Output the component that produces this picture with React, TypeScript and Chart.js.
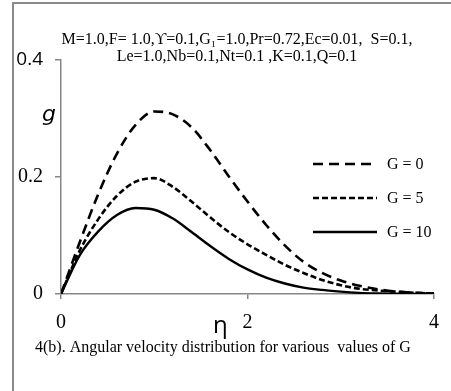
import React, { useEffect, useRef } from "react";
import { Chart, registerables } from "chart.js";

Chart.register(...registerables);

const eta = [0, 0.2, 0.4, 0.6, 0.8, 1.0, 1.2, 1.4, 1.6, 1.8, 2.0, 2.2, 2.4, 2.6, 2.8, 3.0, 3.2, 3.4, 3.6, 3.8, 4.0];
const gG0 = [0, 0.088, 0.171, 0.240, 0.289, 0.312, 0.307, 0.285, 0.246, 0.201, 0.158, 0.118, 0.083, 0.055, 0.036, 0.023, 0.014, 0.008, 0.004, 0.002, 0.001];
const gG5 = [0, 0.074, 0.128, 0.168, 0.192, 0.198, 0.183, 0.158, 0.131, 0.106, 0.085, 0.067, 0.050, 0.036, 0.024, 0.015, 0.009, 0.006, 0.004, 0.002, 0.001];
const gG10 = [0, 0.066, 0.107, 0.135, 0.147, 0.144, 0.129, 0.106, 0.082, 0.060, 0.042, 0.028, 0.018, 0.011, 0.007, 0.004, 0.002, 0.001, 0.0005, 0.0002, 0.0001];
const seriesLabels = ["G = 0", "G = 5", "G = 10"];
const xTicks = [0, 2, 4];
const yTicks = [0, 0.2, 0.4];
const titleLines = [
  "M=1.0,F= 1.0,\u03D2=0.1,G\u2081=1.0,Pr=0.72,Ec=0.01,  S=0.1,",
  "Le=1.0,Nb=0.1,Nt=0.1 ,K=0.1,Q=0.1",
];
const yTitle = "g";
const xTitle = "\u03B7";
const caption = "4(b). Angular velocity distribution for various  values of G";

const AXIS = "#878787";
const SERIF = "'Liberation Serif', 'Times New Roman', serif";
const SANS = "'Open Sans', 'Liberation Sans', sans-serif";

const decorPlugin = {
  id: "decor",
  beforeDraw(chart: any) {
    const ctx = chart.ctx;
    ctx.save();
    ctx.fillStyle = "#ffffff";
    ctx.fillRect(0, 0, chart.width, chart.height);
    ctx.strokeStyle = "#8a8a8a";
    ctx.lineWidth = 2;
    ctx.beginPath();
    ctx.moveTo(13, chart.height);
    ctx.lineTo(13, 3);
    ctx.lineTo(chart.width, 3);
    ctx.stroke();
    ctx.restore();
  },
  afterDraw(chart: any) {
    const ctx = chart.ctx;
    ctx.save();
    ctx.fillStyle = "#000";
    // title
    ctx.font = `16px ${SERIF}`;
    ctx.textAlign = "center";
    ctx.textBaseline = "middle";
    titleLines.forEach((t, i) => ctx.fillText(t, 237, 40 + i * 17));
    // axis titles
    ctx.textAlign = "left";
    ctx.textBaseline = "alphabetic";
    ctx.font = `oblique 22px 'DejaVu Sans', sans-serif`;
    ctx.fillText(yTitle, 42, 121);
    ctx.font = `24px ${SANS}`;
    ctx.fillText(xTitle, 213, 333);
    // caption
    ctx.font = `16px ${SERIF}`;
    ctx.fillText(caption, 35, 352);
    // legend
    const ds = chart.data.datasets;
    ds.forEach((d: any, i: number) => {
      const y = 164 + i * 34;
      ctx.strokeStyle = d.borderColor;
      ctx.lineWidth = d.borderWidth;
      ctx.setLineDash(d.borderDash || []);
      ctx.beginPath();
      ctx.moveTo(313, y);
      ctx.lineTo(377, y);
      ctx.stroke();
      ctx.setLineDash([]);
      ctx.font = `16px ${SERIF}`;
      ctx.textBaseline = "middle";
      ctx.fillText(d.label, 387, y + 1);
    });
    ctx.restore();
  },
};

export default function App() {
  const ref = useRef<HTMLCanvasElement>(null);
  useEffect(() => {
    if (!ref.current) return;
    const mk = (vals: number[]) => eta.map((x, i) => ({ x, y: vals[i] }));
    const chart = new Chart(ref.current, {
      type: "line",
      data: {
        datasets: [
          { label: seriesLabels[0], data: mk(gG0), borderColor: "#000", borderWidth: 2.6, borderDash: [10, 6], pointRadius: 0, fill: false, cubicInterpolationMode: "monotone" },
          { label: seriesLabels[1], data: mk(gG5), borderColor: "#000", borderWidth: 2.6, borderDash: [6, 3], pointRadius: 0, fill: false, cubicInterpolationMode: "monotone" },
          { label: seriesLabels[2], data: mk(gG10), borderColor: "#000", borderWidth: 2.4, pointRadius: 0, fill: false, cubicInterpolationMode: "monotone" },
        ] as any,
      },
      options: {
        animation: false,
        responsive: false,
        maintainAspectRatio: false,
        layout: { padding: { left: 0, right: 12, top: 60, bottom: 57 } },
        plugins: { legend: { display: false }, title: { display: false }, tooltip: { enabled: false } },
        scales: {
          x: {
            type: "linear",
            min: 0,
            max: 4,
            afterFit: (s: any) => { s.height = 40; },
            afterBuildTicks: (s: any) => { s.ticks = xTicks.map((v) => ({ value: v })); },
            grid: { drawOnChartArea: false, drawTicks: true, tickLength: 5, color: AXIS, lineWidth: 1.5 },
            border: { display: true, color: AXIS, width: 1.5 },
            ticks: { color: "#000", font: { family: SERIF, size: 20 }, padding: 12, maxRotation: 0 },
          },
          y: {
            type: "linear",
            min: 0,
            max: 0.4,
            afterFit: (s: any) => { s.width = 61; },
            afterBuildTicks: (s: any) => { s.ticks = yTicks.map((v) => ({ value: v })); },
            grid: { drawOnChartArea: false, drawTicks: true, tickLength: 6, color: AXIS, lineWidth: 1.5 },
            border: { display: true, color: AXIS, width: 1.5 },
            ticks: {
              color: "#000",
              padding: 12,
              callback: (v: any) => String(Math.round(Number(v) * 10) / 10),
              font: (c: any) => {
                const v = c.tick ? c.tick.value : 0;
                return Math.abs(v - 0.4) < 1e-6 ? { family: SANS, size: 19 } : { family: SERIF, size: 20 };
              },
            },
          },
        },
      } as any,
      plugins: [decorPlugin],
    });
    return () => chart.destroy();
  }, []);
  return (
    <div style={{ position: "fixed", left: 0, top: 0, width: 451, height: 391, background: "#fff" }}>
      <canvas ref={ref} width={451} height={391} style={{ display: "block", width: 451, height: 391 }} />
    </div>
  );
}
